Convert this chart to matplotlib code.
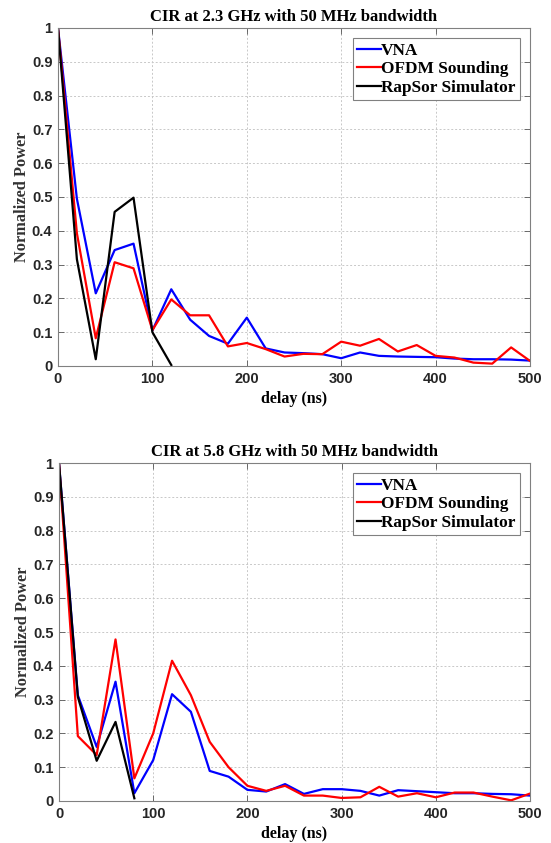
import matplotlib
matplotlib.use("Agg")
import matplotlib.pyplot as plt
import numpy as np

delay = np.arange(0, 501, 20)

# 2.3 GHz
vna_23 = [1.0, 0.495, 0.215, 0.343, 0.362, 0.105, 0.227, 0.137, 0.089, 0.066, 0.143, 0.052,
          0.040, 0.038, 0.035, 0.023, 0.040, 0.030, 0.028, 0.027, 0.026, 0.022, 0.020, 0.020,
          0.019, 0.016]
ofdm_23 = [1.0, 0.393, 0.082, 0.307, 0.289, 0.106, 0.197, 0.150, 0.150, 0.058, 0.068, 0.050,
           0.028, 0.036, 0.035, 0.072, 0.060, 0.080, 0.043, 0.062, 0.030, 0.025, 0.010, 0.007,
           0.055, 0.015]
rap_delay_23 = [0, 20, 40, 60, 80, 100, 120]
rap_23 = [1.0, 0.316, 0.020, 0.456, 0.498, 0.100, 0.003]

# 5.8 GHz
vna_58 = [1.0, 0.313, 0.160, 0.353, 0.023, 0.121, 0.316, 0.264, 0.089, 0.072, 0.033, 0.028,
          0.050, 0.021, 0.035, 0.035, 0.030, 0.016, 0.032, 0.029, 0.026, 0.023, 0.023, 0.021,
          0.020, 0.016]
ofdm_58 = [1.0, 0.192, 0.136, 0.478, 0.067, 0.200, 0.415, 0.313, 0.175, 0.100, 0.045, 0.030,
           0.045, 0.016, 0.016, 0.009, 0.011, 0.042, 0.013, 0.023, 0.011, 0.025, 0.025, 0.013,
           0.002, 0.022]
rap_delay_58 = [0, 20, 40, 60, 80]
rap_58 = [1.0, 0.308, 0.119, 0.234, 0.008]

titles = ["CIR at 2.3 GHz with 50 MHz bandwidth", "CIR at 5.8 GHz with 50 MHz bandwidth"]
series_names = ["VNA", "OFDM Sounding", "RapSor Simulator"]
yticks = [0, 0.1, 0.2, 0.3, 0.4, 0.5, 0.6, 0.7, 0.8, 0.9, 1]
yticklabels = ["0", "0.1", "0.2", "0.3", "0.4", "0.5", "0.6", "0.7", "0.8", "0.9", "1"]
xticks = [0, 100, 200, 300, 400, 500]

serif = "Liberation Serif"
sans = "Liberation Sans"

fig = plt.figure(figsize=(5.51, 8.43), dpi=100)
W, H = 551, 843
boxes = [(58, 28, 530, 366), (59, 463, 530, 801)]
data = [(vna_23, ofdm_23, rap_delay_23, rap_23), (vna_58, ofdm_58, rap_delay_58, rap_58)]

for (l, t, r, b), (vna, ofdm, rd, rap), title in zip(boxes, data, titles):
    ax = fig.add_axes([l / W, 1 - b / H, (r - l) / W, (b - t) / H])
    ax.plot(delay, vna, color="#0000ff", lw=1.6, label=series_names[0])
    ax.plot(delay, ofdm, color="#ff0000", lw=1.6, label=series_names[1])
    ax.plot(rd, rap, color="black", lw=1.6, label=series_names[2])
    ax.set_xlim(0, 500)
    ax.set_ylim(0, 1)
    ax.set_xticks(xticks)
    ax.set_yticks(yticks)
    ax.set_yticklabels(yticklabels)
    for lab in ax.get_xticklabels() + ax.get_yticklabels():
        lab.set_fontfamily(sans)
        lab.set_fontweight("bold")
        lab.set_fontsize(10.5)
        lab.set_color("#262626")
    ax.tick_params(direction="in", length=4, width=0.6, color="#555555",
                   top=True, right=True, pad=4)
    ax.grid(True, color="#c8c8c8", linestyle=(0, (2, 2)), linewidth=0.7)
    for s in ax.spines.values():
        s.set_color("#808080")
        s.set_linewidth(0.8)
    ax.set_title(title, fontfamily=serif, fontweight="bold", fontsize=12, pad=5)
    ax.set_xlabel("delay (ns)", fontfamily=serif, fontweight="bold", fontsize=11.5, labelpad=4)
    ax.set_ylabel("Normalized Power", fontfamily=serif, fontweight="bold", fontsize=11.8,
                  labelpad=1, color="#333333")
    leg = ax.legend(loc="upper right", prop={"family": serif, "weight": "bold", "size": 12.4},
                    handlelength=1.4, handletextpad=0.0, borderpad=0.25, labelspacing=0.15,
                    borderaxespad=0.6, fancybox=False, framealpha=1)
    leg.get_frame().set_edgecolor("#808080")
    leg.get_frame().set_linewidth(0.8)

fig.savefig("out.png", dpi=100)
